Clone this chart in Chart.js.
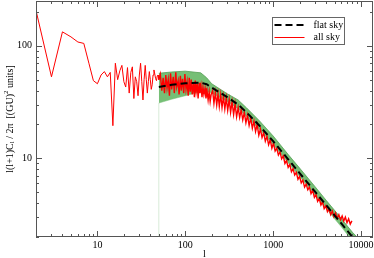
<!DOCTYPE html>
<html lang="en">
<head>
<meta charset="UTF-8" />
<title>Angular power spectrum</title>
<script src="https://cdn.jsdelivr.net/npm/chart.js"></script>
<style>
  html, body { margin: 0; padding: 0; background: #fff; }
  canvas { display: block; }
</style>
</head>
<body>
<canvas id="chart" width="374" height="258"></canvas>
<script>
// all sky, one value per multipole l = 2..50
const ellLow = [2, 3, 4, 5, 6, 7, 8, 9, 10, 11, 12, 13, 14, 15, 16, 17, 18, 19, 20, 21, 22, 23, 24, 25, 26,
  27, 28, 29, 30, 31, 32, 33, 34, 35, 36, 37, 38, 39, 40, 41, 42, 43, 44, 45, 46, 47, 48, 49, 50];
const allSkyLow = [206, 53, 133, 120, 108, 105, 70, 49, 46, 55, 59, 53, 58, 19.5, 70, 50, 60, 67, 48, 43, 64, 38, 58, 65, 34,
  53, 48, 36, 55, 70, 48, 33, 50, 67, 50, 38, 48, 59, 50, 41, 45, 55, 61, 56, 51, 49, 54, 55, 50];

// all sky, noisy high-l part
const ellHigh = [50, 52, 54, 56, 58, 60, 62, 64, 66, 68, 70, 73, 75, 78, 80, 83, 85, 88, 90, 93, 96, 99, 102, 105, 108,
  111, 114, 117, 120, 124, 127, 130, 133, 137, 140, 144, 147, 151, 155, 159, 163, 168, 172, 177, 182, 187, 192, 197,
  205, 212, 220, 228, 236, 244, 253, 262, 272, 282, 293, 304, 316, 328, 341, 355, 369, 384, 400, 416, 433, 451, 470,
  490, 511, 533, 556, 580, 605, 631, 658, 687, 717, 748, 781, 815, 851, 888, 927, 968, 1010,
  1054, 1100, 1148, 1198, 1250, 1305, 1362, 1421, 1483, 1548, 1616, 1686, 1760, 1837, 1917, 2000, 2090, 2180, 2280,
  2380, 2480, 2590, 2700, 2820, 2950, 3080, 3210, 3350, 3500, 3650, 3810, 3980, 4150, 4330, 4520, 4720, 4920, 5140,
  5360, 5600, 5840, 6100, 6360, 6640, 6930, 7230, 7550, 7880];
const allSkyHigh = [50, 56, 40, 52, 38, 55, 42, 50, 36, 57, 41, 53, 38, 58, 43, 49, 37, 54, 40, 51, 38, 56, 41, 48, 36,
  52, 39, 50, 37, 47, 35, 49, 39, 46, 34, 47, 38, 44, 35, 43, 37, 42, 34, 40, 33, 39, 32, 37,
  40, 30.8, 38.5, 29.8, 37.4, 29, 36.7, 28.3, 35.5, 27.5, 34.5, 26.7, 33.3, 25.6, 31.9, 24.5, 30.5, 23.4, 28.3, 23.1,
  27, 22, 25.6, 20.7, 24.2, 19.6, 22.8, 18.5, 21.4, 17.3, 20, 16, 18.2, 15.3, 16.9, 14.2, 15.7, 13.2, 14.6, 12.3, 13.6,
  11.6, 12.3, 10.7, 11.4, 9.9, 10.5, 9, 9.55, 8.3, 8.8, 7.6, 8.1, 7.1, 7.5, 6.5, 6.9, 6.05, 6.4, 5.55,
  5.9, 5.25, 5.55, 4.85, 5.2, 4.5, 4.75, 4.15, 4.4, 3.85, 4.1, 3.57, 3.78, 3.35, 3.55, 3.15, 3.4, 3.03, 3.27,
  2.93, 3.16, 2.84, 3.07, 2.77, 3, 2.68, 2.9, 2.6, 2.78];

// flat sky estimate and its error band
const ellFlat = [50, 70, 100, 150, 175, 200, 300, 400, 500, 700, 1000, 1500, 2000, 3000, 4000, 5000, 6000, 7000, 8000, 9000];
const flatSky = [43, 45, 46.5, 47, 45.5, 42.5, 35, 30, 25.5, 19.5, 14.2, 9.7, 7.4, 5.05, 3.85, 3.12, 2.63, 2.27, 2.0, 1.8];
const bandUpper = [57, 58.5, 59.5, 57.5, 52, 46, 37.5, 33, 28, 21.5, 15.8, 10.7, 8.2, 5.6, 4.25, 3.45, 2.9, 2.5, 2.2, 2.0];
const bandLower = [31, 33.5, 36, 39, 39, 38, 32, 27.5, 23.5, 18, 13.2, 9.0, 6.9, 4.7, 3.6, 2.9, 2.45, 2.1, 1.85, 1.65];

// faint left edge of the band
const edgeEll = [50, 50];
const edgeVal = [2, 31];

const xTicks = [10, 100, 1000, 10000];
const yTicks = [10, 100];

const pts = (xs, ys) => xs.map((x, i) => ({ x: x, y: ys[i] }));

function minorTicks(min, max) {
  const out = [];
  for (let d = Math.pow(10, Math.floor(Math.log10(min))); d < max; d *= 10) {
    for (let k = 1; k <= 9; k++) {
      const v = k * d;
      if (v >= min && v <= max) out.push(v);
    }
  }
  return out;
}

const serif = '"Liberation Serif", "DejaVu Serif", serif';

const frame = {
  id: 'frame',
  afterDatasetsDraw(chart) {
    const { ctx, chartArea: a, scales: { x, y } } = chart;
    ctx.save();
    ctx.strokeStyle = '#555';
    ctx.lineWidth = 1;
    ctx.strokeRect(a.left + 0.5, a.top + 0.5, a.right - a.left - 1, a.bottom - a.top - 1);

    ctx.beginPath();
    for (const v of minorTicks(x.min, x.max)) {
      const px = Math.round(x.getPixelForValue(v)) + 0.5;
      const len = xTicks.includes(v) ? 6 : 3;
      ctx.moveTo(px, a.bottom); ctx.lineTo(px, a.bottom - len);
      ctx.moveTo(px, a.top); ctx.lineTo(px, a.top + len);
    }
    for (const v of minorTicks(y.min, y.max)) {
      const py = Math.round(y.getPixelForValue(v)) + 0.5;
      const len = yTicks.includes(v) ? 6 : 3;
      ctx.moveTo(a.left, py); ctx.lineTo(a.left + len, py);
      ctx.moveTo(a.right, py); ctx.lineTo(a.right - len, py);
    }
    ctx.stroke();

    // tick labels
    ctx.fillStyle = '#000';
    ctx.font = '10px ' + serif;
    ctx.textAlign = 'center';
    ctx.textBaseline = 'top';
    for (const v of xTicks) ctx.fillText(String(v), x.getPixelForValue(v), a.bottom + 3);
    ctx.textAlign = 'right';
    ctx.textBaseline = 'middle';
    for (const v of yTicks) ctx.fillText(String(v), a.left - 4, y.getPixelForValue(v));

    // axis titles
    ctx.textAlign = 'center';
    ctx.textBaseline = 'middle';
    ctx.fillText('l', (a.left + a.right) / 2, a.bottom + 17);

    ctx.save();
    ctx.translate(10, (a.top + a.bottom) / 2);
    ctx.rotate(-Math.PI / 2);
    const parts = [
      ['l(l+1)C', 10, 0], ['l', 7, 2.5], [' / 2\u03c0  [(GU)', 10, 0], ['2', 7, -4], [' units]', 10, 0]
    ];
    let total = 0;
    for (const p of parts) { ctx.font = p[1] + 'px ' + serif; total += ctx.measureText(p[0]).width; }
    let cx = -total / 2;
    ctx.textAlign = 'left';
    for (const p of parts) {
      ctx.font = p[1] + 'px ' + serif;
      ctx.fillText(p[0], cx, p[2]);
      cx += ctx.measureText(p[0]).width;
    }
    ctx.restore();

    // legend (first two datasets)
    const lx = Math.round(a.right - 101) + 0.5, ly = Math.round(a.top + 16) + 0.5;
    ctx.strokeStyle = '#666';
    ctx.lineWidth = 1;
    ctx.strokeRect(lx, ly, 72, 27);
    chart.data.datasets.slice(0, 2).forEach((ds, i) => {
      const yy = ly + 7.5 + i * 12 + (i ? 0.5 : 0);
      ctx.beginPath();
      ctx.strokeStyle = ds.borderColor;
      ctx.lineWidth = ds.borderWidth;
      ctx.setLineDash(ds.borderDash || []);
      ctx.moveTo(lx + 2, yy);
      ctx.lineTo(lx + 32, yy);
      ctx.stroke();
      ctx.setLineDash([]);
      ctx.fillStyle = '#000';
      ctx.font = '10px ' + serif;
      ctx.textAlign = 'left';
      ctx.textBaseline = 'middle';
      ctx.fillText(ds.label, lx + 41, yy);
    });
    ctx.restore();
  }
};

new Chart(document.getElementById('chart'), {
  type: 'line',
  data: {
    datasets: [
      { label: 'flat sky', data: pts(ellFlat, flatSky), borderColor: '#000', borderWidth: 2, borderDash: [7, 4] },
      { label: 'all sky', data: pts(ellLow, allSkyLow), borderColor: '#ff0000', borderWidth: 1 },
      { label: 'all sky', data: pts(ellHigh, allSkyHigh), borderColor: '#ff0000', borderWidth: 1.4 },
      { label: 'band upper', data: pts(ellFlat, bandUpper), borderColor: '#55a055', borderWidth: 0.8,
        backgroundColor: '#76bf76', fill: '+1' },
      { label: 'band lower', data: pts(ellFlat, bandLower), borderColor: '#76bf76', borderWidth: 0.5, fill: false },
      { label: 'edge', data: pts(edgeEll, edgeVal), borderColor: 'rgba(170,210,170,0.45)', borderWidth: 1, fill: false }
    ]
  },
  options: {
    responsive: false,
    animation: false,
    events: [],
    layout: { padding: { left: 36, right: 1, top: 1, bottom: 21 } },
    elements: { point: { radius: 0 }, line: { tension: 0 } },
    plugins: { legend: { display: false }, tooltip: { enabled: false } },
    scales: {
      x: { type: 'logarithmic', min: 2, max: 13700, display: false },
      y: { type: 'logarithmic', min: 2, max: 250, display: false }
    }
  },
  plugins: [frame]
});
</script>
</body>
</html>
